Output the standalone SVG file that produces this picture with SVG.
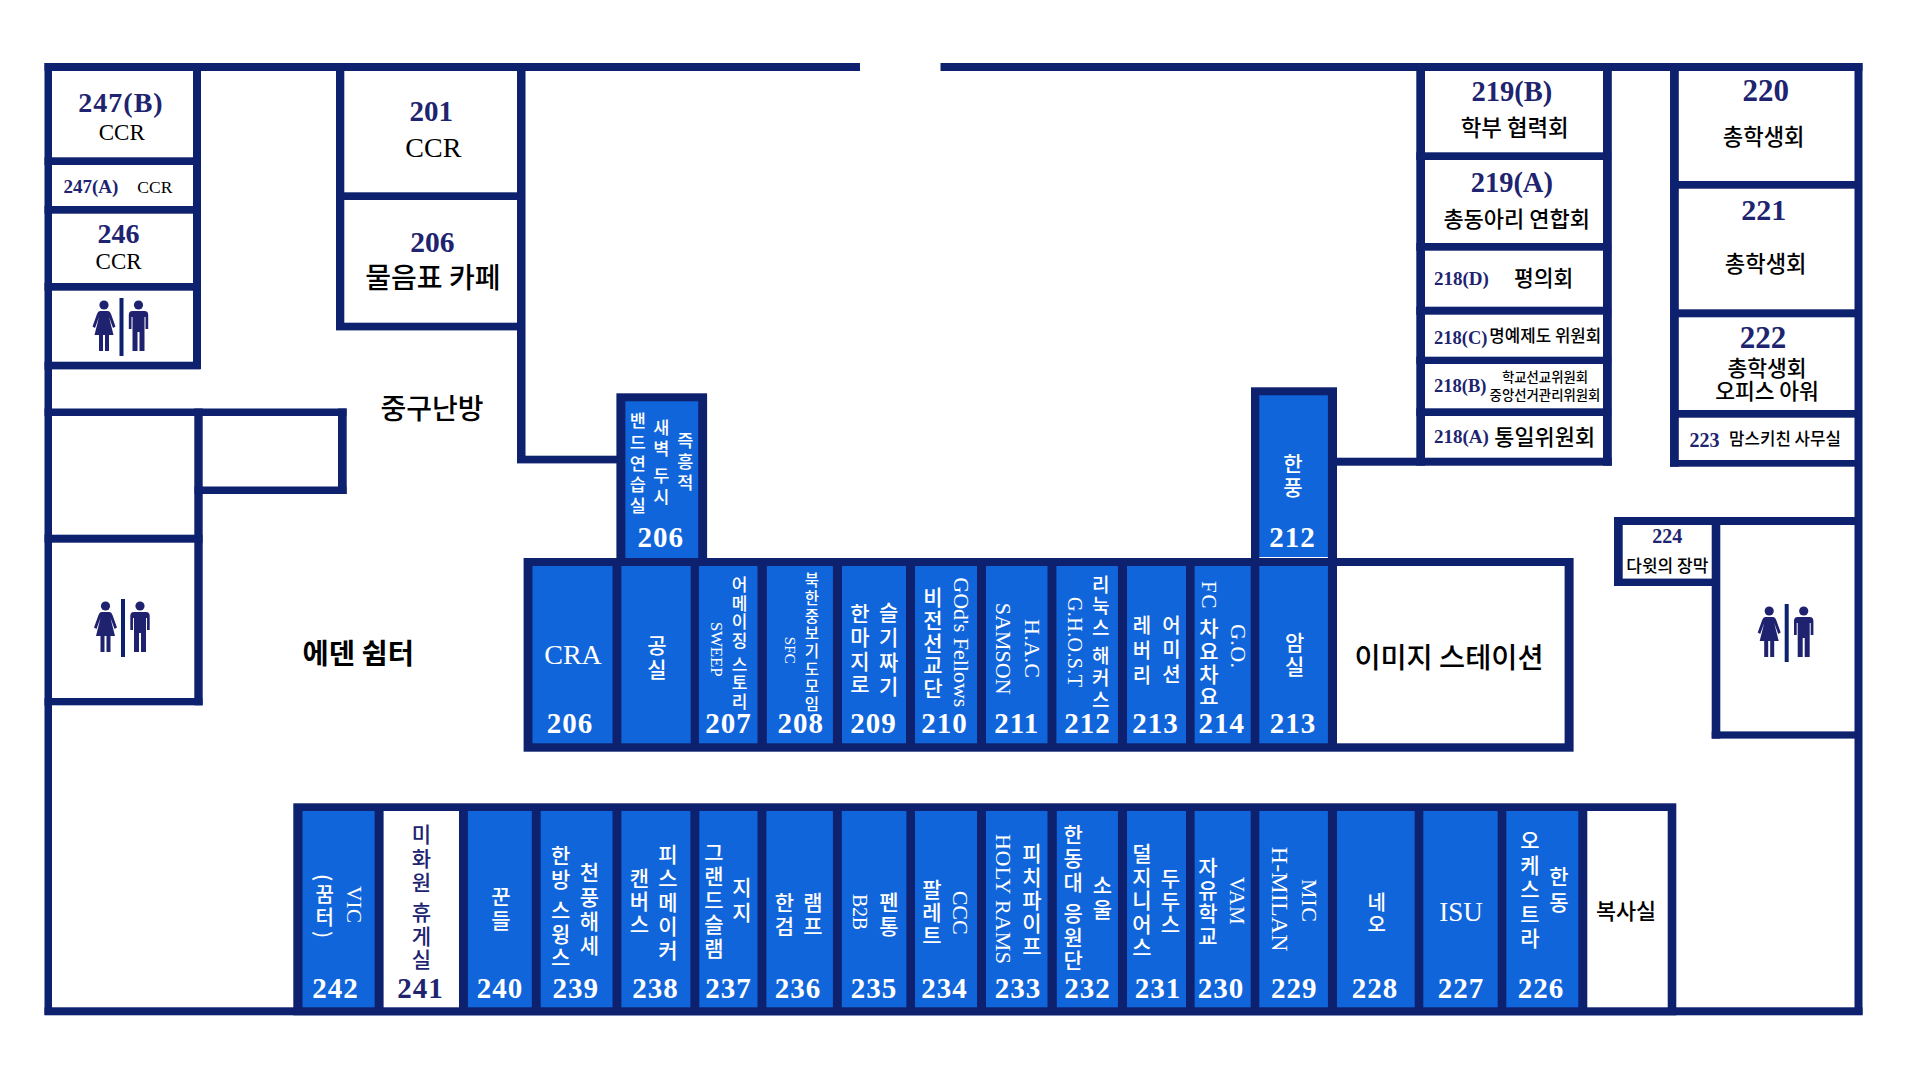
<svg xmlns="http://www.w3.org/2000/svg" width="1920" height="1080" viewBox="0 0 1920 1080">
<style>
.wl{fill:#0d216e}
.c{fill:#1165db}
.e{fill:#fff}
text{fill:#000}
.h{font-family:"Noto Sans CJK KR",sans-serif;font-weight:500}
.s{font-family:"Liberation Serif",serif}
.b{font-weight:700}
.a{text-anchor:middle}
.y{fill:#20236f}
.w{fill:#fff}
.v{writing-mode:vertical-rl}
.n{font-family:"Liberation Serif",serif;font-weight:700;font-size:29px;letter-spacing:1px;text-anchor:middle}
.ic{fill:#1f226e}
</style>
<defs>
<g id="wc">
<rect class="wl" x="-2" y="0" width="4" height="58"/>
<g class="ic" transform="translate(-17.5 0)"><circle cx="0" cy="7" r="4.6"/><path d="M-4,13H4Q6,13 7,16L11.5,28.5L9,30L5,19L9.5,37H5V53H1V37H-1V53H-5V37H-9.5L-5,19L-9,30L-11.5,28.5L-7,16Q-6,13 -4,13Z"/></g>
<g class="ic" transform="translate(17 0)"><circle cx="0" cy="7" r="4.6"/><path d="M-6,13H6Q9.7,13 9.7,17V31H7V19H6V53H1V34H-1V53H-6V19H-7V31H-9.7V17Q-9.7,13 -6,13Z"/></g>
</g>
</defs>
<rect width="1920" height="1080" fill="#fff"/>
<g id="walls" class="wl">
<rect x="44.5" y="63" width="815.5" height="8"/>
<rect x="940.5" y="63" width="922" height="8"/>
<rect x="44.5" y="63" width="7.5" height="952"/>
<rect x="44.5" y="1007.3" width="1818" height="8"/>
<rect x="1854.5" y="63" width="8" height="952"/>
<rect x="193" y="63" width="8" height="306"/>
<rect x="44.5" y="157.3" width="156" height="7.7"/>
<rect x="44.5" y="206" width="156" height="7.7"/>
<rect x="44.5" y="283" width="156" height="7.7"/>
<rect x="44.5" y="361.7" width="156" height="7.7"/>
<rect x="336" y="63" width="8.3" height="267"/>
<rect x="517" y="63" width="8.5" height="400"/>
<rect x="336" y="192.3" width="189" height="7.7"/>
<rect x="336" y="322.7" width="189" height="7.7"/>
<rect x="517" y="455.7" width="100" height="7.7"/>
<rect x="44.5" y="408.5" width="302" height="7.5"/>
<rect x="338" y="408.5" width="8.7" height="85.5"/>
<rect x="194.5" y="486.5" width="152" height="7.5"/>
<rect x="194.3" y="408.5" width="8.4" height="296.8"/>
<rect x="44.5" y="534.7" width="158" height="8"/>
<rect x="44.5" y="698" width="158" height="7.3"/>
<rect x="1416.3" y="63" width="8.7" height="402.7"/>
<rect x="1603" y="63" width="8.8" height="402.7"/>
<rect x="1337" y="457.7" width="274.8" height="8"/>
<rect x="1416.3" y="152.3" width="195" height="7.7"/>
<rect x="1416.3" y="243" width="195" height="7.7"/>
<rect x="1416.3" y="306.7" width="195" height="8"/>
<rect x="1416.3" y="356.7" width="195" height="7.3"/>
<rect x="1416.3" y="408.3" width="195" height="7.7"/>
<rect x="1670" y="63" width="8.8" height="403.7"/>
<rect x="1670" y="181" width="192" height="7.7"/>
<rect x="1670" y="309.3" width="192" height="8"/>
<rect x="1670" y="410" width="192" height="7.7"/>
<rect x="1670" y="460" width="192" height="6.7"/>
<rect x="1614" y="517" width="248" height="8"/>
<rect x="1614" y="517" width="8.7" height="69"/>
<rect x="1614" y="578.6" width="106" height="7.4"/>
<rect x="1711.7" y="517" width="8.6" height="221.6"/>
<rect x="1711.7" y="731.4" width="150" height="7.2"/>
<rect x="616.4" y="393.3" width="90.7" height="170"/>
<rect x="1251" y="387.3" width="86" height="176"/>
<rect x="523.6" y="558" width="1050" height="193.7"/>
<rect x="293.3" y="803.3" width="1383" height="212"/>
</g>
<g id="room-247b"><text class="s b y a" x="121" y="111.7" font-size="28" letter-spacing="1">247(B)</text><text class="s a" x="121.8" y="140" font-size="23">CCR</text></g>
<g id="room-247a"><text class="s b y" x="63.5" y="192.7" font-size="19">247(A)</text><text class="s" x="137.3" y="192.7" font-size="17.5">CCR</text></g>
<g id="room-246"><text class="s b y a" x="118.6" y="242.7" font-size="28">246</text><text class="s a" x="118.6" y="269" font-size="23">CCR</text></g>
<g id="wc-1"><use href="#wc" x="121.5" y="298"/></g>
<g id="wc-2"><use href="#wc" x="123" y="599"/></g>
<g id="wc-3"><use href="#wc" x="1786.7" y="604"/></g>
<g id="room-201"><text class="s b y a" x="431.2" y="121" font-size="29">201</text><text class="s a" x="433.3" y="157.3" font-size="28">CCR</text></g>
<g id="room-206-cafe"><text class="s b y a" x="432.4" y="251.5" font-size="29.5">206</text><text class="h a" x="432.9" y="287.5" font-size="28">물음표 카페</text></g>
<g id="label-boiler"><text class="h a" x="432" y="419" font-size="28">중구난방</text></g>
<g id="label-eden"><text class="h a" style="font-weight:700" x="358.3" y="664" font-size="28.5">에덴 쉼터</text></g>
<g id="room-219b"><text class="s b y a" x="1511.8" y="100.7" font-size="28.5">219(B)</text><text class="h a" x="1514.7" y="135.5" font-size="22.4">학부 협력회</text></g>
<g id="room-219a"><text class="s b y a" x="1511.8" y="191.7" font-size="28.5">219(A)</text><text class="h a" x="1516.7" y="226.5" font-size="22">총동아리 연합회</text></g>
<g id="room-218d"><text class="s b y" x="1434" y="285" font-size="19">218(D)</text><text class="h a" x="1543.7" y="285.5" font-size="21.5">평의회</text></g>
<g id="room-218c"><text class="s b y" x="1434" y="344.3" font-size="18.5">218(C)</text><text class="h a" x="1545.3" y="342" font-size="16.8">명예제도 위원회</text></g>
<g id="room-218b"><text class="s b y" x="1434" y="392.3" font-size="18.5">218(B)</text><text class="h a" x="1545" y="381.5" font-size="13.4">학교선교위원회</text><text class="h a" x="1545" y="400" font-size="13.4">중앙선거관리위원회</text></g>
<g id="room-218a"><text class="s b y" x="1434" y="443.3" font-size="19">218(A)</text><text class="h a" x="1544.7" y="444.5" font-size="21.9">통일위원회</text></g>
<g id="room-220"><text class="s b y a" x="1765.7" y="100.7" font-size="31">220</text><text class="h a" x="1763.7" y="144.5" font-size="22.2">총학생회</text></g>
<g id="room-221"><text class="s b y a" x="1763.7" y="220" font-size="30">221</text><text class="h a" x="1765.7" y="272" font-size="22.2">총학생회</text></g>
<g id="room-222"><text class="s b y a" x="1762.9" y="347.7" font-size="31">222</text><text class="h a" x="1767" y="375.5" font-size="21.5">총학생회</text><text class="h a" x="1767" y="398.5" font-size="21.5">오피스 아워</text></g>
<g id="room-223"><text class="s b y" x="1689.4" y="446.7" font-size="20">223</text><text class="h a" x="1785" y="445" font-size="16.8">맘스키친 사무실</text></g>
<g id="room-224"><text class="s b y a" x="1667.3" y="543" font-size="20">224</text><text class="h a" x="1667.3" y="571.5" font-size="17">다윗의 장막</text></g>

<g id="room-206-up"><rect class="c" x="625.4" y="401.3" width="72.8" height="156.7"/>
<text class="h w v" x="637.9" y="412" font-size="17.5" textLength="102">밴드연습실</text><text class="h w v" x="661.4" y="419" font-size="17.5" textLength="86">새벽 두시</text><text class="h w v" x="685.4" y="432" font-size="17.5" textLength="59">즉흥적</text><text class="n w" x="660.7" y="546.7">206</text></g>
<g id="room-212-up"><rect class="c" x="1259.3" y="395.3" width="68.6" height="161.7"/><rect class="e" x="1259.3" y="557" width="68.6" height="1"/>
<text class="h w v" x="1293" y="452.7" font-size="21" textLength="45">한풍</text><text class="n w" x="1292.5" y="546.7">212</text></g>

<g id="room-206"><rect class="c" x="532.5" y="566" width="80" height="177.3"/><text class="s w a" x="573" y="664" font-size="28">CRA</text><text class="n w" x="570" y="732.7">206</text></g>
<g id="room-vacant-1"><rect class="c" x="621.4" y="566" width="69.3" height="177.3"/><text class="h w v" x="656.8" y="635" font-size="21" textLength="45">공실</text></g>
<g id="room-207"><rect class="c" x="698.9" y="566" width="58.6" height="177.3"/><text class="h w v" x="739.6" y="576" font-size="17" textLength="134">어메이징 스토리</text><text class="s w v" x="716.4" y="621.7" font-size="17" textLength="55">SWEEP</text><text class="n w" x="728.6" y="732.7">207</text></g>
<g id="room-208"><rect class="c" x="766.8" y="566" width="66.1" height="177.3"/><text class="h w v" x="811.8" y="572.7" font-size="15.5" textLength="139">북한중보기도모임</text><text class="s w v" x="790.4" y="636.7" font-size="15" textLength="27">SFC</text><text class="n w" x="800.7" y="732.7">208</text></g>
<g id="room-209"><rect class="c" x="842" y="566" width="64" height="177.3"/><text class="h w v" x="888.6" y="601.7" font-size="21" textLength="95">슬기짜기</text><text class="h w v" x="860" y="603" font-size="21" textLength="92">한마지로</text><text class="n w" x="873.6" y="732.7">209</text></g>
<g id="room-210"><rect class="c" x="915" y="566" width="62" height="177.3"/><text class="s w v" x="961" y="577.3" font-size="22" textLength="130">GOd's Fellows</text><text class="h w v" x="932.9" y="586.7" font-size="21" textLength="112">비전선교단</text><text class="n w" x="944.6" y="732.7">210</text></g>
<g id="room-211"><rect class="c" x="986" y="566" width="61.5" height="177.3"/><text class="s w v" x="1032.5" y="619" font-size="22" textLength="59">H.A.C</text><text class="s w v" x="1003.6" y="602.7" font-size="22" textLength="92">SAMSON</text><text class="n w" x="1016.8" y="732.7">211</text></g>
<g id="room-212"><rect class="c" x="1056.4" y="566" width="61.5" height="177.3"/><text class="h w v" x="1100.7" y="575" font-size="19" textLength="134">리눅스 해커스</text><text class="s w v" x="1075" y="597" font-size="20" textLength="90">G.H.O.S.T</text><text class="n w" x="1087.5" y="732.7">212</text></g>
<g id="room-213"><rect class="c" x="1127" y="566" width="59" height="177.3"/><text class="h w v" x="1171.4" y="615" font-size="20" textLength="69">어미션</text><text class="h w v" x="1142" y="615" font-size="20" textLength="70">레버리</text><text class="n w" x="1155.4" y="732.7">213</text></g>
<g id="room-214"><rect class="c" x="1194.6" y="566" width="56.1" height="177.3"/><text class="s w v" x="1238" y="624" font-size="22" textLength="44">G.O.</text><text class="h w v" x="1209" y="581" font-size="21" textLength="126"><tspan class="s" style="font-weight:400">FC</tspan> 차요차요</text><text class="n w" x="1221.8" y="732.7">214</text></g>
<g id="room-213b"><rect class="c" x="1259.3" y="566" width="68.6" height="177.3"/><text class="h w v" x="1294.6" y="631.7" font-size="21" textLength="45">암실</text><text class="n w" x="1293" y="732.7">213</text></g>
<g id="image-station"><rect class="e" x="1337" y="566" width="227.6" height="177.3"/><text class="h a" x="1449" y="668" font-size="28.4">이미지 스테이션</text></g>

<g id="room-242"><rect class="c" x="302.5" y="811" width="72.1" height="196.3"/><text class="s w v" x="354.3" y="886" font-size="21" textLength="37">VIC</text><text class="h w v" x="324.6" y="874" font-size="20" textLength="64">(꿈터)</text><text class="n w" x="335.4" y="997.7">242</text></g>
<g id="room-241"><rect class="e" x="383.6" y="811" width="75.4" height="196.3"/><text class="h y v" x="421.4" y="824" font-size="21" textLength="146">미화원 휴게실</text><text class="n y" x="420.4" y="997.7">241</text></g>
<g id="room-240"><rect class="c" x="467.9" y="811" width="63.9" height="196.3"/><text class="h w v" x="501" y="886" font-size="21" textLength="45">꾼들</text><text class="n w" x="500" y="997.7">240</text></g>
<g id="room-239"><rect class="c" x="540.7" y="811" width="71.8" height="196.3"/><text class="h w v" x="589.3" y="861.7" font-size="21" textLength="94">천풍해세</text><text class="h w v" x="560.7" y="845" font-size="21" textLength="123">한방 스윙스</text><text class="n w" x="575.7" y="997.7">239</text></g>
<g id="room-238"><rect class="c" x="621.4" y="811" width="69" height="196.3"/><text class="h w v" x="667.9" y="844" font-size="21" textLength="117">피스메이커</text><text class="h w v" x="639.3" y="868" font-size="21" textLength="67">캔버스</text><text class="n w" x="655.4" y="997.7">238</text></g>
<g id="room-237"><rect class="c" x="699.3" y="811" width="58.2" height="196.3"/><text class="h w v" x="714" y="842" font-size="21" textLength="117">그랜드슬램</text><text class="h w v" x="742" y="876.7" font-size="21" textLength="46">지지</text><text class="n w" x="728.6" y="997.7">237</text></g>
<g id="room-236"><rect class="c" x="766.4" y="811" width="66.5" height="196.3"/><text class="h w v" x="813" y="891.7" font-size="21" textLength="44.5">램프</text><text class="h w v" x="784.3" y="891.7" font-size="21" textLength="45">한검</text><text class="n w" x="797.9" y="997.7">236</text></g>
<g id="room-235"><rect class="c" x="841.8" y="811" width="64.6" height="196.3"/><text class="h w v" x="889" y="891.7" font-size="21" textLength="45">펜통</text><text class="s w v" x="860.4" y="894" font-size="20" textLength="36">B2B</text><text class="n w" x="874" y="997.7">235</text></g>
<g id="room-234"><rect class="c" x="915" y="811" width="62" height="196.3"/><text class="s w v" x="960.4" y="890.7" font-size="22" textLength="44">CCC</text><text class="h w v" x="931.8" y="879" font-size="21" textLength="67">팔레트</text><text class="n w" x="944.6" y="997.7">234</text></g>
<g id="room-233"><rect class="c" x="986" y="811" width="61.5" height="196.3"/><text class="h w v" x="1031.8" y="843" font-size="21" textLength="114">피치파이프</text><text class="s w v" x="1003" y="834" font-size="22" textLength="130">HOLY RAMS</text><text class="n w" x="1017.9" y="997.7">233</text></g>
<g id="room-232"><rect class="c" x="1056.8" y="811" width="61.1" height="196.3"/><text class="h w v" x="1073.2" y="824" font-size="21" textLength="147">한동대 응원단</text><text class="h w v" x="1102.5" y="875" font-size="21" textLength="45">소울</text><text class="n w" x="1087.5" y="997.7">232</text></g>
<g id="room-231"><rect class="c" x="1127" y="811" width="59" height="196.3"/><text class="h w v" x="1141.8" y="843" font-size="21" textLength="115">덜지니어스</text><text class="h w v" x="1170.4" y="867.7" font-size="21" textLength="67">두두스</text><text class="n w" x="1157.9" y="997.7">231</text></g>
<g id="room-230"><rect class="c" x="1194.6" y="811" width="56.1" height="196.3"/><text class="s w v" x="1237" y="876.7" font-size="21" textLength="48">VAM</text><text class="h w v" x="1208" y="856.7" font-size="21" textLength="90">자유학교</text><text class="n w" x="1221" y="997.7">230</text></g>
<g id="room-229"><rect class="c" x="1259.3" y="811" width="68.6" height="196.3"/><text class="s w v" x="1309" y="879" font-size="22" textLength="43">MIC</text><text class="s w v" x="1280.4" y="846.7" font-size="24" textLength="105">H-MILAN</text><text class="n w" x="1294.3" y="997.7">229</text></g>
<g id="room-228"><rect class="c" x="1337" y="811" width="77.7" height="196.3"/><text class="h w v" x="1376.8" y="892.7" font-size="20" textLength="42">네오</text><text class="n w" x="1375" y="997.7">228</text></g>
<g id="room-227"><rect class="c" x="1423.3" y="811" width="74.4" height="196.3"/><text class="s w a" x="1461" y="921" font-size="27">ISU</text><text class="n w" x="1461" y="997.7">227</text></g>
<g id="room-226"><rect class="c" x="1506.3" y="811" width="72" height="196.3"/><text class="h w v" x="1559" y="865.5" font-size="21" textLength="47">한동</text><text class="h w v" x="1530" y="830" font-size="21" textLength="119">오케스트라</text><text class="n w" x="1541" y="997.7">226</text></g>
<g id="room-copy"><rect class="e" x="1587.3" y="811" width="80.4" height="196.3"/><text class="h a" x="1626" y="919" font-size="21.8">복사실</text></g>
</svg>
